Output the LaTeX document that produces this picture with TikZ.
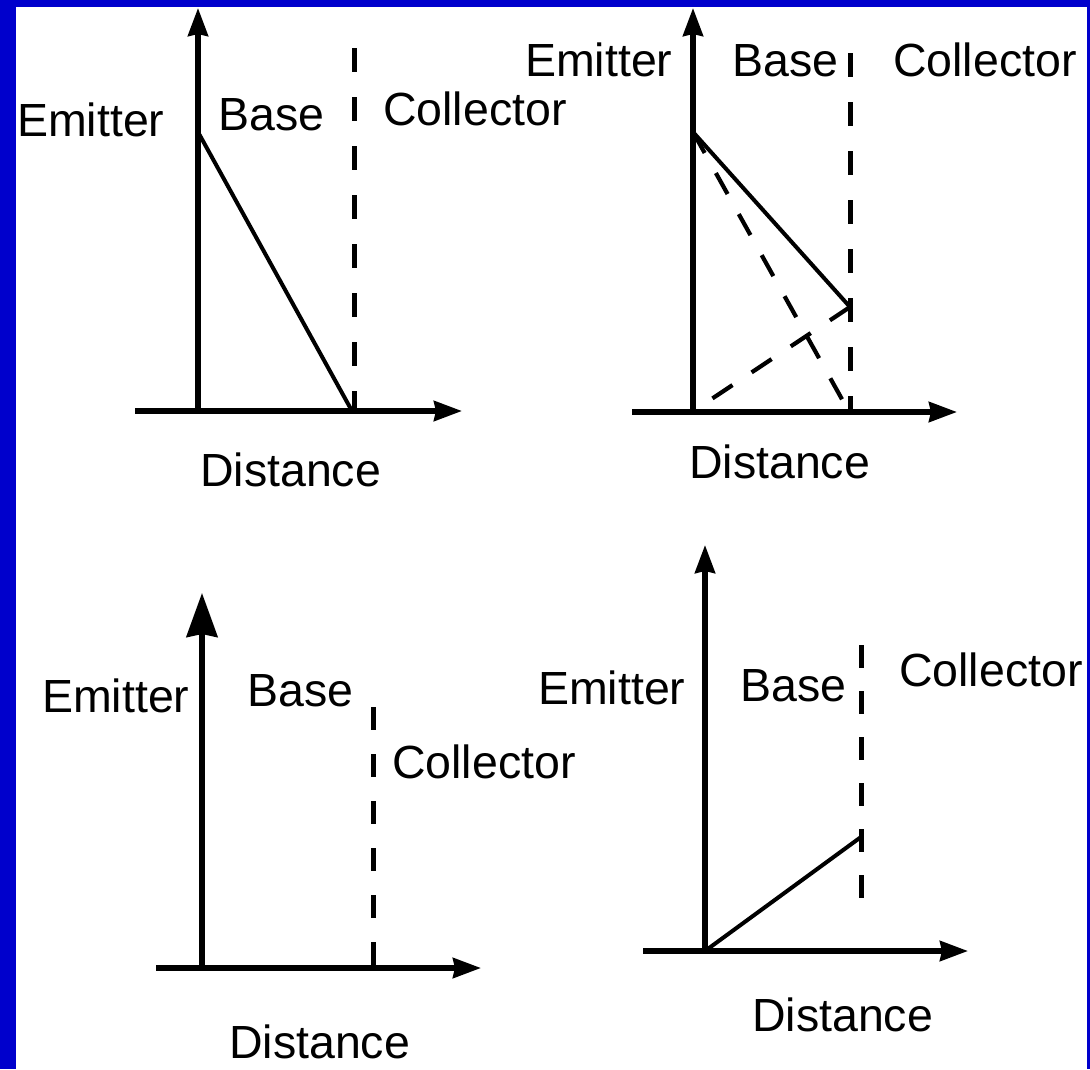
\documentclass[tikz,border=0pt]{standalone}
\usepackage{fontspec}
\setmainfont{Liberation Sans}
\usetikzlibrary{arrows.meta}
\definecolor{frameblue}{RGB}{0,0,204}
\begin{document}
\begin{tikzpicture}[x=1pt,y=-1pt,
  axis/.style={line width=5.2pt,-{Stealth[length=28pt,width=20pt,inset=2pt]}},
  bigaxis/.style={line width=5.2pt,-{Stealth[length=44pt,width=31pt,inset=3pt]}},
  curve/.style={line width=4pt},
  vdash/.style={line width=5pt,dash pattern=on 24pt off 25pt},
  ddash/.style={line width=4.2pt,dash pattern=on 24pt off 23pt},
  lbl/.style={font=\fontsize{46.5}{50}\selectfont,anchor=base west,inner sep=0pt}]
\fill[frameblue] (0,0) rectangle (1090,1069);
\fill[white] (16,7) rectangle (1087,1069);
\useasboundingbox (0,0) rectangle (1090,1069);

% ---------- Panel 1 ----------
\coordinate (o1) at (198,411);
\coordinate (y1) at (198,8);
\coordinate (xs1) at (135,411);
\coordinate (x1) at (462,411);
\coordinate (e1) at (198,132);
\coordinate (c1) at (352,411);
\coordinate (dt1) at (354,48);
\coordinate (db1) at (354,411);
\draw[axis] (o1) -- (y1);
\draw[axis] (xs1) -- (x1);
\draw[curve] (e1) -- (c1);
\draw[vdash] (dt1) -- (db1);
\node[lbl] (em1) at (17,136) {Emitter};
\node[lbl] (ba1) at (218,130) {Base};
\node[lbl] (co1) at (383,125) {Collector};
\node[lbl] (di1) at (200,486) {Distance};

% ---------- Panel 2 ----------
\coordinate (o2) at (693,412);
\coordinate (y2) at (693,8);
\coordinate (xs2) at (632,412);
\coordinate (x2) at (957,412);
\coordinate (e2) at (693,132);
\coordinate (m2) at (850,307);
\coordinate (c2) at (848,410);
\coordinate (s2) at (695,410);
\coordinate (dt2) at (850,53);
\coordinate (db2) at (850,412);
\draw[axis] (o2) -- (y2);
\draw[axis] (xs2) -- (x2);
\draw[curve] (e2) -- (m2);
\draw[ddash] (e2) -- (c2);
\draw[ddash,dash phase=26pt] (s2) -- (m2);
\draw[vdash] (dt2) -- (db2);
\node[lbl] (em2) at (525,76) {Emitter};
\node[lbl] (ba2) at (732,76) {Base};
\node[lbl] (co2) at (893,76) {Collector};
\node[lbl] (di2) at (689,478) {Distance};

% ---------- Panel 3 ----------
\coordinate (o3) at (202,968);
\coordinate (y3) at (202,593);
\coordinate (xs3) at (156,968);
\coordinate (x3) at (481,968);
\coordinate (dt3) at (373,707);
\coordinate (db3) at (373,968);
\draw[bigaxis] (o3) -- (y3);
\draw[axis] (xs3) -- (x3);
\draw[vdash,dash pattern=on 23pt off 24pt] (dt3) -- (db3);
\node[lbl] (em3) at (42,712) {Emitter};
\node[lbl] (ba3) at (247,706) {Base};
\node[lbl] (co3) at (392,778) {Collector};
\node[lbl] (di3) at (229,1058) {Distance};

% ---------- Panel 4 ----------
\coordinate (o4) at (705,951);
\coordinate (y4) at (705,545);
\coordinate (xs4) at (643,951);
\coordinate (x4) at (968,951);
\coordinate (m4) at (861,837);
\coordinate (dt4) at (861,645);
\coordinate (db4) at (861,903);
\draw[axis] (o4) -- (y4);
\draw[axis] (xs4) -- (x4);
\draw[curve] (o4) -- (m4);
\draw[vdash,dash pattern=on 23pt off 23pt] (dt4) -- (db4);
\node[lbl] (em4) at (538,704) {Emitter};
\node[lbl] (ba4) at (740,701) {Base};
\node[lbl] (co4) at (899,686) {Collector};
\node[lbl] (di4) at (752,1031) {Distance};
\end{tikzpicture}
\end{document}
